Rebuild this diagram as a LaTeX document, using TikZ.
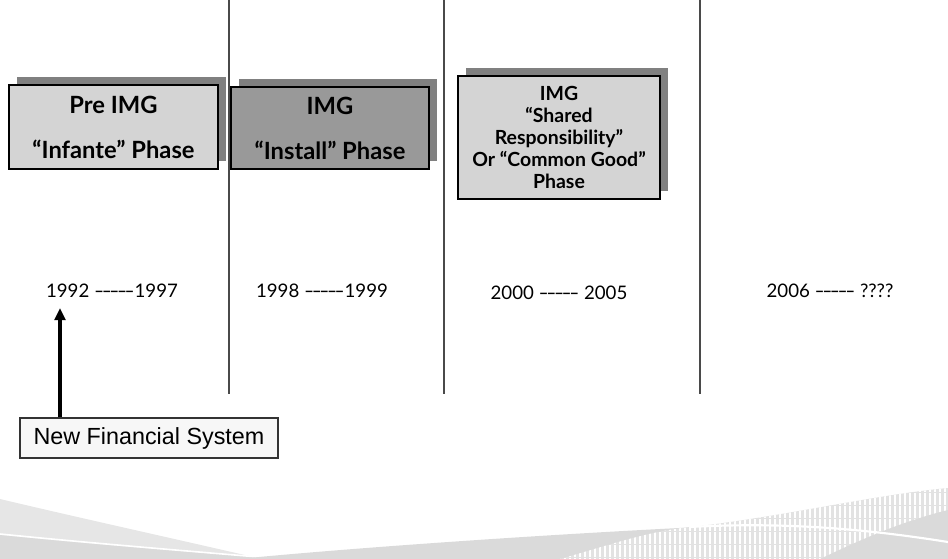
\documentclass[tikz,border=0pt]{standalone}
\usepackage{fontspec}
\usepackage{graphicx}
\setmainfont{Lato}
\newfontfamily\arialfont{Liberation Sans}
\usetikzlibrary{arrows.meta,shadows}

\definecolor{shadowgray}{HTML}{808080}
\definecolor{lightbox}{HTML}{D4D4D4}
\definecolor{darkbox}{HTML}{999999}
\definecolor{divider}{HTML}{4A4A4A}
\definecolor{notebox}{HTML}{F7F7F7}
\definecolor{waveA}{HTML}{E6E6E6}
\definecolor{waveB}{HTML}{DADADA}
\definecolor{waveC}{HTML}{E2E2E2}

% a run of hyphens set close and stretched, so that they read as one long rule
\newcommand\hyphrun{\scalebox{1.45}[1]{-\kern-0.09em-{}\kern-0.09em-{}\kern-0.09em-{}\kern-0.09em-}}

\tikzset{
  phasebox/.style={draw=black, line width=0.8pt, align=center, inner sep=0pt,
    general shadow={shadow xshift=6pt, shadow yshift=6pt, fill=shadowgray}},
  phasetext/.style={font=\bfseries\fontsize{17.8}{33.75}\selectfont},
  smalltext/.style={font=\bfseries\fontsize{14.6}{16.5}\selectfont},
  yeartext/.style={font=\fontsize{14}{16}\selectfont, inner sep=0pt},
  divline/.style={draw=divider, line width=1.2pt},
  notebox/.style={draw=black!80, line width=0.8pt, fill=notebox, inner sep=0pt,
    font=\arialfont\fontsize{17.5}{20}\selectfont},
  pointer/.style={line width=3pt, -{Triangle[width=8pt,length=9pt]}}
}

\begin{document}
\begin{tikzpicture}[x=0.75pt, y=-0.75pt]
\useasboundingbox (0,0) rectangle (948,559);

% decorative waves along the bottom edge
\fill[waveA] (0,499) .. controls (80,518) and (180,540) .. (262,559) -- (0,559) -- cycle;
\fill[waveB] (0,535) .. controls (100,545) and (200,553) .. (282,559) -- (0,559) -- cycle;
\draw[white, line width=1.2pt] (0,534) .. controls (100,544) and (200,552) .. (282,559);
\fill[waveB] (238,559) .. controls (350,548) and (550,534) .. (720,526) -- (720,559) -- cycle;
\begin{scope}
  \clip (560,559) .. controls (610,545) and (650,530) .. (700,526)
        .. controls (790,515) and (880,494) .. (948,488) -- (948,559) -- cycle;
  \fill[waveC] (550,480) rectangle (948,559);
  \foreach \sx in {560,565,...,948} {
    \draw[white, line width=1.4pt, dash pattern=on 9pt off 0.8pt] (\sx,480) -- (\sx,559);
  }
\end{scope}
\fill[waveB] (820,559) .. controls (860,540) and (900,522) .. (948,510) -- (948,559) -- cycle;
\draw[white, line width=1.6pt] (690,527) .. controls (780,522) and (860,528) .. (948,542);

% dividers between the periods
\draw[divline] (229,0) -- (229,394);
\draw[divline] (444,0) -- (444,394);
\draw[divline] (700,0) -- (700,394);

% phase boxes
\node[phasebox, phasetext, fill=lightbox, minimum width=156.75pt, minimum height=63pt]
  (pre) at (113.5,127) {Pre IMG\\“Infante” Phase};
\node[phasebox, phasetext, fill=darkbox, minimum width=148.5pt, minimum height=61.5pt]
  (install) at (330,128) {IMG\\“Install” Phase};
\node[phasebox, smalltext, fill=lightbox, minimum width=151.5pt, minimum height=92.25pt]
  (shared) at (559,137.5) {IMG\\“Shared\\Responsibility”\\Or “Common Good”\\Phase};

% periods
\node[yeartext] (y92) at (112,291) {1992 \hyphrun1997};
\node[yeartext] (y98) at (322,291) {1998 \hyphrun1999};
\node[yeartext] (y00) at (559,293) {2000 \hyphrun{} 2005};
\node[yeartext] (y06) at (830,291) {2006 \hyphrun{} ????};

% new financial system pointer
\node[notebox, minimum width=193.5pt, minimum height=30pt] (nfs) at (149,438) {New Financial System};
\coordinate (tip) at (60,308);
\draw[pointer] (nfs.north -| tip) -- (tip);
\end{tikzpicture}
\end{document}
